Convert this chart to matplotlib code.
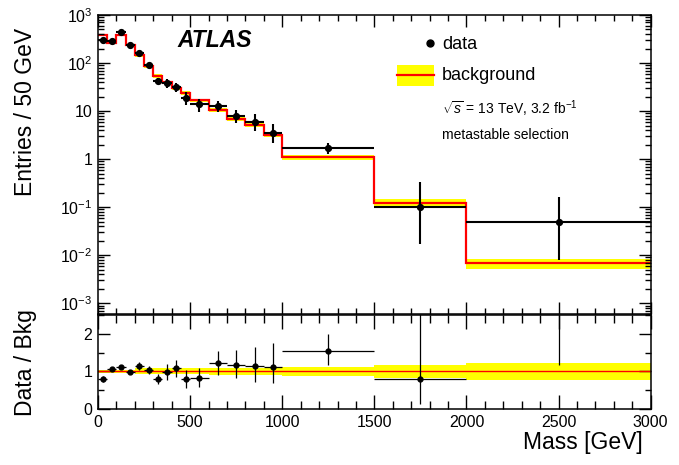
import numpy as np
import matplotlib
matplotlib.use('Agg')
import matplotlib.pyplot as plt
from matplotlib.ticker import MultipleLocator, FixedLocator, NullFormatter
from matplotlib.patches import Rectangle
from matplotlib.lines import Line2D

plt.rcParams['font.family'] = ['Liberation Sans', 'DejaVu Sans']
plt.rcParams['mathtext.fontset'] = 'custom'
plt.rcParams['mathtext.rm'] = 'Liberation Sans'
plt.rcParams['mathtext.it'] = 'Liberation Sans:italic'
plt.rcParams['mathtext.bf'] = 'Liberation Sans:bold'

# bin edges in GeV
edges = [0, 50, 100, 150, 200, 250, 300, 350, 400, 450, 500,
         600, 700, 800, 900, 1000, 1500, 2000, 3000]

# entries / 50 GeV
data = [302, 283, 435, 235, 165, 90, 43, 39, 32, 19,
        14, 13, 8, 6, 3.5, 1.7, 0.1, 0.05]
data_up = [26, 13, 19, 12, 14.5, 8.7, 7, 8.4, 6.5, 5.8,
           4.2, 3.4, 2.8, 2.6, 2.0, 0.5, 0.23, 0.115]
data_dn = [26, 13, 19, 12, 14.5, 8.7, 7, 8.4, 6.5, 5.8,
           4.2, 3.4, 2.3, 2.2, 1.3, 0.42, 0.083, 0.042]
bkg = [378, 265, 385, 242, 145, 87, 54, 40, 29.6, 24,
       16.8, 10.7, 6.9, 5.2, 3.15, 1.1, 0.125, 0.0068]
bkg_unc = [0.03, 0.03, 0.03, 0.03, 0.08, 0.08, 0.08, 0.08, 0.08, 0.08,
           0.08, 0.10, 0.10, 0.10, 0.10, 0.13, 0.18, 0.23]

edges = np.array(edges, dtype=float)
data = np.array(data)
data_up = np.array(data_up)
data_dn = np.array(data_dn)
bkg = np.array(bkg)
bkg_unc = np.array(bkg_unc)
centers = 0.5 * (edges[:-1] + edges[1:])
halfw = 0.5 * np.diff(edges)

W, H = 679, 465
fig = plt.figure(figsize=(W / 100, H / 100), dpi=100)
ax = fig.add_axes([98 / W, 1 - 314 / H, 552.7 / W, 299 / H])
rx = fig.add_axes([98 / W, 1 - 409 / H, 552.7 / W, 94 / H])

yellow = '#ffff00'

# ---- top panel
ax.stairs(bkg * (1 + bkg_unc), edges, baseline=bkg * (1 - bkg_unc),
          fill=True, color=yellow, lw=0)
ax.stairs(bkg, edges, baseline=None, color='red', lw=1.6)
ax.errorbar(centers, data, xerr=halfw, yerr=[data_dn, data_up], fmt='o',
            color='black', ms=4.2, lw=1.5, capsize=0)

ax.set_yscale('log')
ax.set_xlim(0, 3000)
ax.set_ylim(6e-4, 1e3)
ax.yaxis.set_major_locator(FixedLocator([1e-3, 1e-2, 1e-1, 1, 10, 100, 1000]))
ax.set_yticklabels(['$10^{-3}$', '$10^{-2}$', '$10^{-1}$', '1', '10',
                    '$10^{2}$', '$10^{3}$'])
minors = [m * 10.0 ** e for e in range(-4, 3) for m in range(2, 10)]
ax.yaxis.set_minor_locator(FixedLocator(minors))
ax.yaxis.set_minor_formatter(NullFormatter())
ax.xaxis.set_major_locator(MultipleLocator(500))
ax.xaxis.set_minor_locator(MultipleLocator(100))
ax.tick_params(which='both', direction='in', top=True, right=True,
               labelbottom=False, labelsize=11.5, pad=4, width=1)
ax.tick_params(which='major', length=8.5)
ax.tick_params(which='minor', length=4.2)
ax.set_ylabel('Entries / 50 GeV', fontsize=16.5)
ax.yaxis.set_label_coords(-0.111, 0.676)

# legend & labels
ax.text(0.143, 0.894, 'ATLAS', transform=ax.transAxes, fontsize=16.5,
        fontweight='bold', fontstyle='italic', va='baseline')
ax.add_line(Line2D([0.601], [0.906], transform=ax.transAxes, marker='o',
                   color='black', ms=5, ls='none'))
ax.text(0.622, 0.886, 'data', transform=ax.transAxes, fontsize=13,
        va='baseline')
ax.add_patch(Rectangle((0.541, 0.764), 0.067, 0.069, transform=ax.transAxes,
                       color=yellow, lw=0))
ax.add_line(Line2D([0.541, 0.608], [0.7985, 0.7985], transform=ax.transAxes,
                   color='red', lw=1.6))
ax.text(0.622, 0.783, 'background', transform=ax.transAxes, fontsize=13,
        va='baseline')
ax.text(0.622, 0.669, r'$\sqrt{s}$ = 13 TeV, 3.2 fb$^{-1}$',
        transform=ax.transAxes, fontsize=10, va='baseline')
ax.text(0.622, 0.585, 'metastable selection', transform=ax.transAxes,
        fontsize=10, va='baseline')

# ---- ratio panel
ratio = data / bkg
rx.stairs(1 + bkg_unc, edges, baseline=1 - bkg_unc, fill=True,
          color=yellow, lw=0)
rx.axhline(1, color='red', lw=1)
rx.errorbar(centers, ratio, xerr=halfw, yerr=[data_dn / bkg, data_up / bkg],
            fmt='o', color='black', ms=3.5, lw=0.9, capsize=0)
rx.set_xlim(0, 3000)
rx.set_ylim(0, 2.5)
rx.yaxis.set_major_locator(FixedLocator([0, 1, 2]))
rx.yaxis.set_minor_locator(MultipleLocator(0.5))
rx.xaxis.set_major_locator(MultipleLocator(500))
rx.xaxis.set_minor_locator(MultipleLocator(100))
rx.tick_params(which='both', direction='in', top=True, right=True,
               labelsize=11.5, pad=4, width=1)
rx.tick_params(axis='x', which='major', length=10)
rx.tick_params(axis='x', which='minor', length=5.5)
rx.tick_params(axis='y', which='major', length=8.5)
rx.tick_params(axis='y', which='minor', length=4.2)
rx.set_ylabel('Data / Bkg', fontsize=16.5)
rx.yaxis.set_label_coords(-0.111, 0.49)
rx.set_xlabel('Mass [GeV]', fontsize=16.5, loc='right')
rx.xaxis.set_label_coords(0.986, -0.235)

for a in (ax, rx):
    for s in a.spines.values():
        s.set_linewidth(1.1)

fig.savefig('out.png', dpi=100)
